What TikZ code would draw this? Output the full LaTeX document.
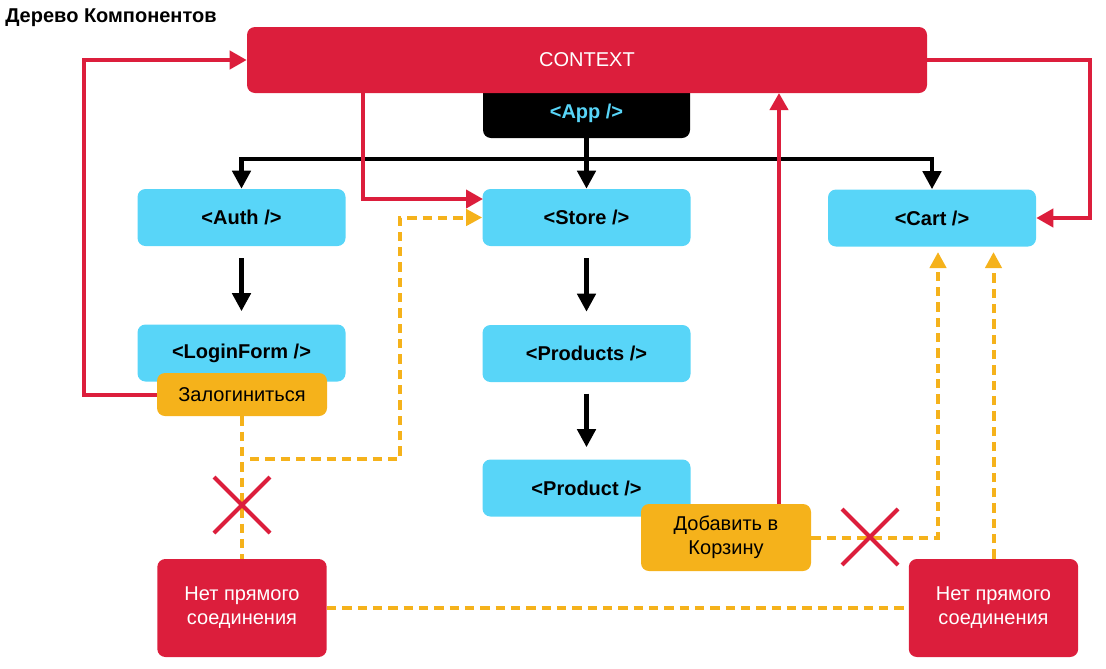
\documentclass[tikz,border=0pt]{standalone}
\usepackage{fontspec}
\setmainfont{Liberation Sans}
\usetikzlibrary{arrows.meta}
\definecolor{ctxred}{HTML}{DC1E3C}
\definecolor{cyanbox}{HTML}{58D5F8}
\definecolor{ambr}{HTML}{F5B21B}
\begin{document}
\begin{tikzpicture}[x=0.75pt,y=-0.75pt,
  base/.style={rectangle, rounded corners=6pt, inner sep=0pt, align=center,
    font=\fontsize{15}{18}\selectfont},
  cbox/.style={base, fill=cyanbox, minimum width=156pt, minimum height=42.75pt,
    font=\fontsize{15}{18}\selectfont\bfseries},
  abox/.style={base, fill=ambr, minimum width=127.5pt},
  rbox/.style={base, fill=ctxred, text=white, minimum width=127pt, minimum height=73.5pt},
  blk/.style={draw=black, line width=3.3pt, -{Triangle[length=13.5pt,width=13.5pt]}},
  redln/.style={draw=ctxred, line width=3pt},
  redarr/.style={redln, -{Triangle[length=12.75pt,width=13.5pt]}},
  ydash/.style={draw=ambr, line width=3pt, dash pattern=on 7pt off 4.5pt},
  ydasharr/.style={ydash, -{Triangle[length=12pt,width=12pt]}},
  crossmark/.style={draw=ctxred, line width=3pt}
]
\useasboundingbox (0,0) rectangle (1106,668);

% title
\node[anchor=base west, inner sep=0pt, font=\fontsize{15}{18}\selectfont\bfseries] (title) at (5,22.7) {Дерево Компонентов};

% App and context
\node[base, fill=black, minimum width=155.25pt, minimum height=45pt] (app) at (586.5,108) {};
\node[inner sep=0pt, text=cyanbox, font=\fontsize{15}{18}\selectfont\bfseries] (apptxt) at (586.5,113) {<App />};
\node[base, fill=ctxred, text=white, minimum width=510pt, minimum height=49.5pt] (ctx) at (587,60) {CONTEXT};

% component boxes
\node[cbox] (auth) at (241.5,217.5) {<Auth />};
\node[cbox] (store) at (586.5,217.5) {<Store />};
\node[cbox] (cart) at (932,218) {<Cart />};
\node[cbox] (login) at (241.5,353) {<LoginForm />};
\node[cbox] (products) at (586.5,353.5) {<Products />};
\node[cbox] (product) at (586.5,488) {<Product />};

% actions
\node[abox, minimum height=32.25pt] (zal) at (242,394.5) {Залогиниться};
\node[abox, minimum height=50.25pt] (dob) at (726,537.5) {Добавить в\\Корзину};

% no connection boxes
\node[rbox] (net1) at (242,608) {Нет прямого\\соединения};
\node[rbox] (net2) at (993.5,608) {Нет прямого\\соединения};

% black tree arrows
\coordinate (bus) at (586.5,159);
\draw[blk] (app.south) -- (store.north);
\draw[blk] (bus) -| (auth.north);
\draw[blk] (bus) -| (cart.north);
\draw[blk, shorten <=9pt, shorten >=9.75pt] (auth.south) -- (login.north);
\draw[blk, shorten <=9pt, shorten >=9.75pt] (store.south) -- (products.north);
\draw[blk, shorten <=8.5pt, shorten >=9pt] (products.south) -- (product.north);

% red context connectors
\coordinate (ctxS1) at (362.5,93);
\coordinate (stW1) at (483,199);
\draw[redarr] (ctxS1) |- (stW1);
\coordinate (rl) at (84,60);
\draw[redarr] (zal.west) -| (rl) -- (ctx.west);
\coordinate (rr) at (1090,60);
\draw[redarr] (ctx.east) -- (rr) |- (cart.east);
\coordinate (dobN) at (779,504);
\coordinate (ctxS2) at (779,93);
\draw[redarr] (dobN) -- (ctxS2);

% yellow dashed connectors
\draw[ydash] (zal.south) -- (net1.north);
\coordinate (yj) at (250,459);
\coordinate (yc) at (400,217.5);
\draw[ydasharr] (yj) -| (yc) -- (store.west);
\coordinate (cartS1) at (938,252);
\draw[ydasharr] (dob.east) -| (cartS1);
\coordinate (cartS2) at (993.5,252);
\draw[ydasharr] (net2.north) -- (cartS2);
\draw[ydash] (net1.east) -- (net2.west);

% crosses
\coordinate (x1) at (242,505);
\coordinate (x2) at (870,537);
\draw[crossmark] (x1) ++(-28,-28) -- ++(56,56);
\draw[crossmark] (x1) ++(-28,28) -- ++(56,-56);
\draw[crossmark] (x2) ++(-28,-28) -- ++(56,56);
\draw[crossmark] (x2) ++(-28,28) -- ++(56,-56);
\end{tikzpicture}
\end{document}
